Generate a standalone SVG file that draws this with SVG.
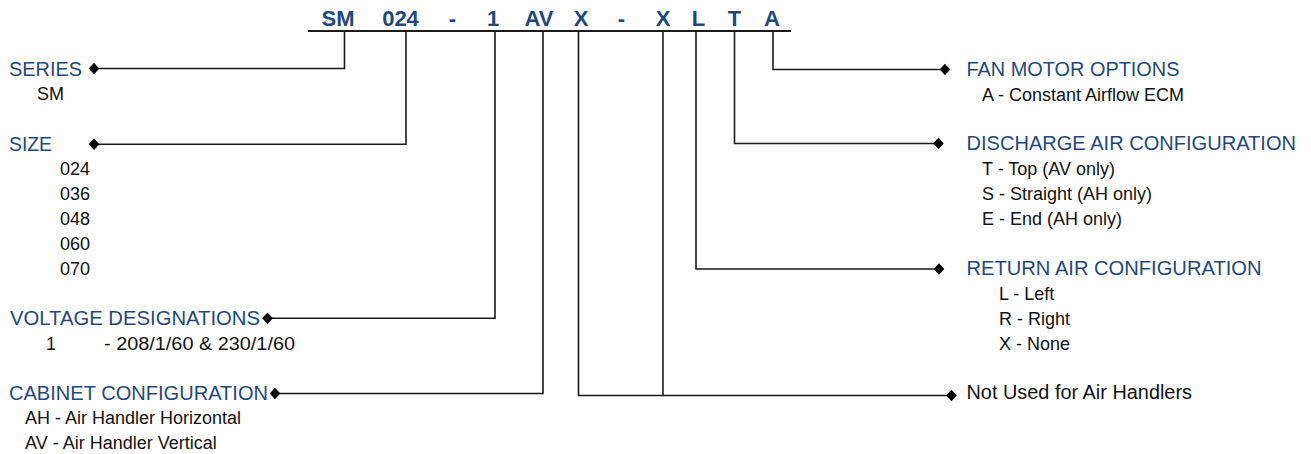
<svg xmlns="http://www.w3.org/2000/svg" width="1311" height="454" viewBox="0 0 1311 454">
<style>
.code{font-family:"Liberation Sans",Arial,sans-serif;font-weight:bold;font-size:22px;fill:#1f497d;text-anchor:middle}
.hd{font-family:"Liberation Sans",Arial,sans-serif;font-size:20.2px;fill:#1f497d}
.bd{font-family:"Liberation Sans",Arial,sans-serif;font-size:18px;fill:#111}
.nu{font-family:"Liberation Sans",Arial,sans-serif;font-size:20px;fill:#111}
.cn{fill:none;stroke:#1a1a1a;stroke-width:1.6}
</style>
<defs>
<marker id="dia" viewBox="-7 -7 14 14" markerWidth="14" markerHeight="14" refX="0" refY="0" markerUnits="userSpaceOnUse" orient="0">
<path d="M0,-5.7 L5.3,0 L0,5.7 L-5.3,0Z" fill="#000"/>
</marker>
</defs>
<rect width="1311" height="454" fill="#fff"/>
<g id="model-code">
<text class="code" x="338" y="26">SM</text>
<text class="code" x="400.5" y="26">024</text>
<text class="code" x="452.5" y="26">-</text>
<text class="code" x="493" y="26">1</text>
<text class="code" x="539" y="26">AV</text>
<text class="code" x="581" y="26">X</text>
<text class="code" x="621.5" y="26">-</text>
<text class="code" x="663" y="26">X</text>
<text class="code" x="698.5" y="26">L</text>
<text class="code" x="734.5" y="26">T</text>
<text class="code" x="772" y="26">A</text>
<line x1="308" y1="31" x2="791" y2="31" stroke="#1a1a1a" stroke-width="2"/>
</g>
<g id="connectors">
<path class="cn" d="M344.5,31 V68.5 H94" marker-end="url(#dia)"/>
<path class="cn" d="M406,31 V144.3 H94" marker-end="url(#dia)"/>
<path class="cn" d="M495,31 V318.3 H267.5" marker-end="url(#dia)"/>
<path class="cn" d="M543,31 V393.5 H275" marker-end="url(#dia)"/>
<path class="cn" d="M578.5,31 V395.5 H951.5" marker-end="url(#dia)"/>
<path class="cn" d="M663,31 V395.5"/>
<path class="cn" d="M696,31 V269 H939" marker-end="url(#dia)"/>
<path class="cn" d="M734.5,31 V143.5 H938.5" marker-end="url(#dia)"/>
<path class="cn" d="M773,31 V69.5 H945" marker-end="url(#dia)"/>
</g>
<g id="series">
<text class="hd" x="9" y="76" textLength="73" lengthAdjust="spacingAndGlyphs">SERIES</text>
<text class="bd" x="37" y="100">SM</text>
</g>
<g id="size">
<text class="hd" x="9" y="150.5" textLength="43" lengthAdjust="spacingAndGlyphs">SIZE</text>
<text class="bd" x="60" y="175">024</text>
<text class="bd" x="60" y="200">036</text>
<text class="bd" x="60" y="225">048</text>
<text class="bd" x="60" y="250">060</text>
<text class="bd" x="60" y="275">070</text>
</g>
<g id="voltage">
<text class="hd" x="10" y="324.5" textLength="250" lengthAdjust="spacingAndGlyphs">VOLTAGE DESIGNATIONS</text>
<text class="bd" x="46" y="350">1</text>
<text class="bd" x="104" y="350" textLength="191" lengthAdjust="spacingAndGlyphs">- 208/1/60 &amp; 230/1/60</text>
</g>
<g id="cabinet">
<text class="hd" x="9" y="399.5" textLength="259" lengthAdjust="spacingAndGlyphs">CABINET CONFIGURATION</text>
<text class="bd" x="25" y="424">AH - Air Handler Horizontal</text>
<text class="bd" x="25" y="449">AV - Air Handler Vertical</text>
</g>
<g id="fan-motor">
<text class="hd" x="966.5" y="75.5" textLength="213" lengthAdjust="spacingAndGlyphs">FAN MOTOR OPTIONS</text>
<text class="bd" x="982" y="101">A - Constant Airflow ECM</text>
</g>
<g id="discharge">
<text class="hd" x="966.5" y="150" textLength="329.5" lengthAdjust="spacingAndGlyphs">DISCHARGE AIR CONFIGURATION</text>
<text class="bd" x="982" y="175">T - Top (AV only)</text>
<text class="bd" x="982" y="200">S - Straight (AH only)</text>
<text class="bd" x="982" y="225">E - End (AH only)</text>
</g>
<g id="return-air">
<text class="hd" x="966.5" y="275" textLength="295" lengthAdjust="spacingAndGlyphs">RETURN AIR CONFIGURATION</text>
<text class="bd" x="999" y="300">L - Left</text>
<text class="bd" x="999" y="325">R - Right</text>
<text class="bd" x="999" y="350">X - None</text>
</g>
<g id="not-used">
<text class="nu" x="966.5" y="399" textLength="225.5" lengthAdjust="spacingAndGlyphs">Not Used for Air Handlers</text>
</g>
</svg>
